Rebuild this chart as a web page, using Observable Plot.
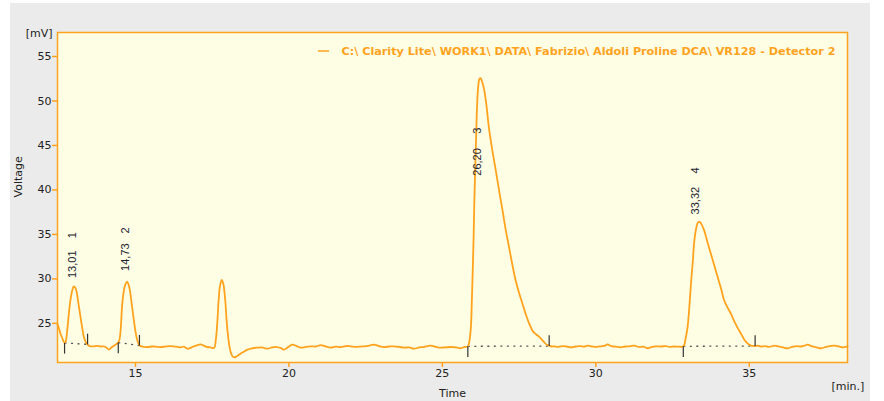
<!DOCTYPE html>
<html><head><meta charset="utf-8">
<script src="https://cdn.jsdelivr.net/npm/d3@7"></script>
<script src="https://cdn.jsdelivr.net/npm/@observablehq/plot@0.6"></script>
<style>
body{margin:0;background:#fff;}
#wrap{position:relative;width:884px;height:401px;overflow:hidden;}
#bg{position:absolute;left:10px;top:3px;width:860px;height:398px;background:#ebebeb;}
#wrap svg{position:absolute;left:0;top:0;}
</style></head><body><div id="wrap"><div id="bg"></div></div>
<script>
// chromatogram trace (time in min, signal in mV)
const time = [12.46,12.51,12.56,12.62,12.68,12.72,12.77,12.83,12.89,12.94,12.99,13.04,13.08,13.14,13.21,13.27,13.32,13.38,13.44,13.52,13.64,13.75,13.86,13.97,14.05,14.13,14.19,14.24,14.33,14.43,14.48,14.52,14.57,14.63,14.68,14.73,14.78,14.82,14.88,14.95,15.00,15.06,15.13,15.22,15.38,15.55,15.70,15.82,15.95,16.10,16.25,16.37,16.47,16.58,16.69,16.77,16.85,16.98,17.12,17.22,17.34,17.45,17.56,17.62,17.67,17.71,17.75,17.81,17.85,17.88,17.93,17.97,18.01,18.05,18.10,18.16,18.22,18.30,18.43,18.53,18.65,18.80,18.97,19.12,19.30,19.45,19.62,19.75,19.84,19.96,20.11,20.25,20.38,20.55,20.71,20.88,21.04,21.20,21.36,21.52,21.69,21.85,22.01,22.20,22.45,22.62,22.77,22.93,23.10,23.27,23.43,23.60,23.75,23.92,24.08,24.25,24.40,24.52,24.62,24.80,24.95,25.10,25.27,25.45,25.60,25.72,25.83,25.88,25.93,25.96,25.99,26.02,26.04,26.07,26.10,26.13,26.17,26.21,26.25,26.30,26.36,26.44,26.52,26.63,26.74,26.85,26.96,27.06,27.17,27.28,27.39,27.50,27.61,27.72,27.83,27.95,28.06,28.16,28.30,28.40,28.48,28.56,28.64,28.78,28.92,29.05,29.19,29.35,29.50,29.62,29.73,29.88,30.02,30.18,30.30,30.38,30.50,30.65,30.82,30.95,31.10,31.25,31.40,31.55,31.69,31.82,31.98,32.12,32.28,32.40,32.56,32.70,32.86,32.92,32.99,33.05,33.10,33.16,33.21,33.27,33.33,33.38,33.45,33.53,33.64,33.75,33.86,33.97,34.08,34.18,34.29,34.40,34.50,34.62,34.73,34.84,34.95,35.06,35.17,35.28,35.38,35.50,35.64,35.82,35.95,36.10,36.25,36.40,36.55,36.69,36.80,36.90,37.05,37.20,37.34,37.50,37.64,37.77,37.92,38.05,38.20];
const voltage = [24.95,24.4,23.84,23.3,22.85,22.9,24.0,26.1,27.8,28.7,29.16,29.0,28.6,27.3,25.7,24.4,23.46,22.9,22.62,22.42,22.42,22.48,22.4,22.42,22.3,22.04,22.2,22.34,22.55,22.8,23.2,24.4,27.2,28.8,29.46,29.7,29.3,28.7,27.1,25.3,24.1,23.1,22.53,22.38,22.34,22.4,22.36,22.34,22.38,22.45,22.42,22.35,22.3,22.38,22.15,22.2,22.34,22.5,22.64,22.5,22.34,22.3,22.22,23.2,25.3,27.6,29.1,29.9,29.6,29.1,27.4,25.3,23.8,22.7,21.8,21.3,21.18,21.3,21.6,21.8,22.05,22.2,22.27,22.3,22.15,22.3,22.34,22.2,22.04,22.3,22.6,22.45,22.27,22.35,22.42,22.4,22.56,22.4,22.27,22.38,22.34,22.45,22.42,22.35,22.42,22.5,22.6,22.45,22.34,22.4,22.42,22.35,22.27,22.3,22.15,22.3,22.34,22.45,22.5,22.35,22.27,22.3,22.34,22.3,22.2,22.35,22.42,23.0,24.6,27.5,31.0,35.0,38.45,42.3,45.9,49.4,51.7,52.5,52.55,52.1,51.3,49.4,46.9,44.4,42.2,39.9,37.7,35.6,33.6,31.6,29.8,28.4,27.2,26.0,24.97,24.1,23.75,23.46,22.95,22.6,22.5,22.4,22.42,22.35,22.45,22.4,22.3,22.4,22.45,22.38,22.5,22.4,22.35,22.42,22.5,22.64,22.45,22.38,22.3,22.4,22.42,22.5,22.35,22.38,22.2,22.35,22.42,22.4,22.45,22.35,22.4,22.38,22.42,23.2,24.6,27.0,29.46,32.0,34.3,35.7,36.35,36.4,36.1,35.45,34.1,32.8,31.5,30.2,28.9,27.6,26.8,26.1,25.3,24.5,23.84,23.15,22.72,22.5,22.45,22.5,22.4,22.45,22.35,22.5,22.4,22.3,22.2,22.35,22.45,22.4,22.5,22.6,22.4,22.3,22.2,22.35,22.45,22.5,22.4,22.3,22.42];

// peak annotations
const peakIds = ["1","2","3","4"];
const peakTimes = [13.01,14.73,26.20,33.32];
const peakTimeLabels = ["13,01","14,73","26,20","33,32"];
const peakLabelBase = [30.1,30.9,41.6,37.25];
const peakIdPos = [34.9,35.45,46.65,42.2];

// integration baselines
const baseStartT = [12.69,14.44,25.83,32.85];
const baseStartV = [22.8,22.85,22.42,22.42];
const baseEndT = [13.44,15.13,28.48,35.19];
const baseEndV = [22.64,22.5,22.45,22.45];
const markLen = 1.2; // mV

const xTicks = [15,20,25,30,35];
const yTicks = [25,30,35,40,45,50,55];
const legendLabel = "C:\\ Clarity Lite\\ WORK1\\ DATA\\ Fabrizio\\ Aldoli Proline DCA\\ VR128 - Detector 2";

const trace = time.map((t,i)=>({t, v: voltage[i]}));
const peaks = peakIds.map((id,i)=>({id, t: peakTimes[i], lab: peakTimeLabels[i], yl: peakLabelBase[i], yi: peakIdPos[i]}));
const bases = baseStartT.map((t,i)=>({t1:t, v1:baseStartV[i], t2:baseEndT[i], v2:baseEndV[i]}));

const ORANGE = "#ffa31e";
const W = 884, MR = 37, MT = 32, LEG_W = 494, LEG_DX = 12;

const chart = Plot.plot({
  width: W, height: 401,
  marginLeft: 57, marginRight: MR, marginTop: MT, marginBottom: 39,
  style: {background: "transparent", fontFamily: "DejaVu Sans", fontSize: "11px", color: "#222"},
  x: {domain: [12.46, 38.2]},
  y: {domain: [20.6, 57.7]},
  marks: [
    Plot.frame({fill: "#fefee4", stroke: "none"}),
    Plot.axisY({ticks: yTicks, tickSize: 5, tickPadding: 1, stroke: ORANGE, strokeWidth: 1.5, fill: "#222", label: null}),
    Plot.axisX({ticks: xTicks, tickSize: 5, tickPadding: 2, stroke: ORANGE, strokeWidth: 1.5, fill: "#222", label: null}),
    Plot.link(bases, {x1: "t1", y1: "v1", x2: "t2", y2: "v2", stroke: "#555", strokeWidth: 1.3, strokeDasharray: "2,4.5"}),
    Plot.line(trace, {x: "t", y: "v", stroke: ORANGE, strokeWidth: 1.8, curve: "catmull-rom"}),
    Plot.link(bases, {x1: "t1", x2: "t1", y1: "v1", y2: d => d.v1 - markLen, stroke: "#333", strokeWidth: 1.2}),
    Plot.link(bases, {x1: "t2", x2: "t2", y1: "v2", y2: d => d.v2 + markLen, stroke: "#333", strokeWidth: 1.2}),
    Plot.text(peaks, {x: "t", y: "yl", text: "lab", rotate: -90, textAnchor: "start", dx: -2, fill: "#1c2230", fontFamily: "Liberation Sans", fontSize: 11}),
    Plot.text(peaks, {x: "t", y: "yi", text: "id", rotate: -90, textAnchor: "middle", dx: -2, fill: "#1c2230", fontFamily: "Liberation Sans", fontSize: 11}),
    Plot.text([legendLabel], {text: d => d, frameAnchor: "top-right", textAnchor: "end", dx: -LEG_DX, dy: 15, fill: ORANGE, fontWeight: "bold", fontFamily: "DejaVu Sans", fontSize: 10.5}),
    Plot.text(["[mV]"], {text: d => d, frameAnchor: "top-left", textAnchor: "end", dx: -5, dy: -3, fill: "#222"}),
    Plot.text(["Voltage"], {text: d => d, frameAnchor: "left", rotate: -90, dx: -39, fill: "#222"}),
    Plot.text(["Time"], {text: d => d, frameAnchor: "bottom", dy: 34, fill: "#222"}),
    Plot.text(["[min.]"], {text: d => d, frameAnchor: "bottom-right", textAnchor: "start", dx: -16, dy: 27, fill: "#222"}),
    Plot.frame({stroke: ORANGE, strokeWidth: 1.5})
  ]
});
document.getElementById("wrap").appendChild(chart);

// legend: fit text width and add line swatch
const svg = d3.select(chart);
svg.selectAll("text").each(function(){
  if (this.textContent.indexOf("Clarity") >= 0) {
    d3.select(this).attr("textLength", LEG_W).attr("lengthAdjust", "spacingAndGlyphs");
  }
});
const legRight = W - MR - LEG_DX;
const legLeft = legRight - LEG_W;
svg.append("line")
  .attr("x1", legLeft - 23).attr("x2", legLeft - 12)
  .attr("y1", MT + 19).attr("y2", MT + 19)
  .attr("stroke", ORANGE).attr("stroke-width", 1.5);
</script>
</body></html>
